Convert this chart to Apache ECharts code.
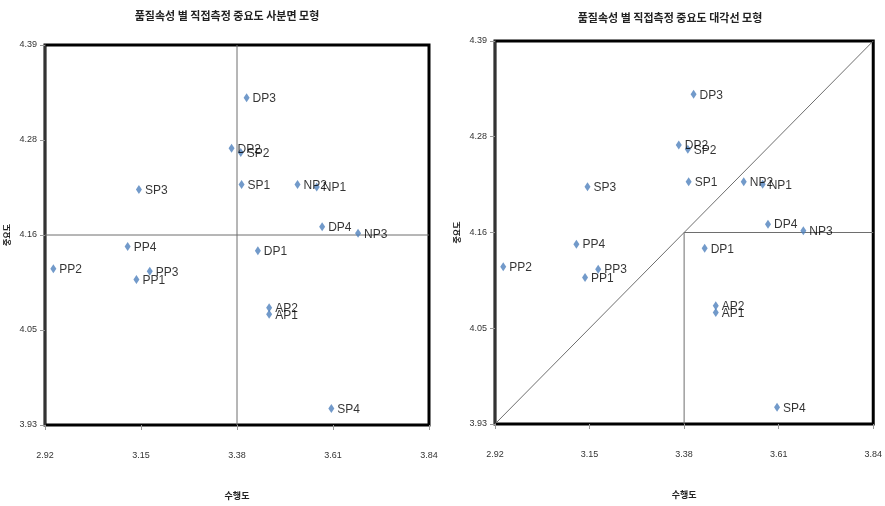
<!DOCTYPE html>
<html>
<head>
<meta charset="utf-8">
<script src="https://cdn.jsdelivr.net/npm/echarts@6/dist/echarts.min.js"></script>
<style>
html,body{margin:0;padding:0;background:#fff;}
#chart{width:885px;height:506px;}
</style>
</head>
<body>
<div id="chart"></div>
<script>
// ---- data ----
const names = ['DP3','DP2','SP2','SP1','NP2','NP1','SP3','DP4','NP3','PP4','DP1','PP2','PP3','PP1','AP2','AP1','SP4'];
const performance = [3.403,3.367,3.389,3.391,3.525,3.571,3.145,3.584,3.670,3.118,3.430,2.940,3.171,3.139,3.457,3.457,3.606];
const importance  = [4.326,4.265,4.260,4.221,4.221,4.218,4.215,4.170,4.162,4.146,4.141,4.119,4.116,4.106,4.072,4.064,3.950];

const xTicks = [2.92,3.15,3.38,3.61,3.84];
const xTickLabels = ['2.92','3.15','3.38','3.61','3.84'];
const yTicks = [3.93,4.045,4.16,4.275,4.39];
const yTickLabels = ['3.93','4.05','4.16','4.28','4.39'];
const xMean = 3.38;
const yMean = 4.16;

const titles = ['품질속성 별 직접측정 중요도 사분면 모형','품질속성 별 직접측정 중요도 대각선 모형'];
const xName = '수행도';
const yName = '중요도';

// ---- build ----
const pts = names.map((n,i)=>({name:n, value:[performance[i], importance[i]]}));
const xMin = xTicks[0], xMax = xTicks[xTicks.length-1];
const yMin = yTicks[0], yMax = yTicks[yTicks.length-1];

function lbl(ticks, labels){
  return function(v){
    let best=0, d=1e9;
    ticks.forEach((t,i)=>{ const dd=Math.abs(t-v); if(dd<d){d=dd;best=i;} });
    return labels[best];
  };
}
const tickFont = {fontFamily:'Liberation Sans Narrow, Liberation Sans, sans-serif', fontSize:9, color:'#333'};

function xAxis(gi){
  return {
    type:'value', gridIndex:gi, min:xMin, max:xMax,
    name:xName, nameLocation:'middle', nameGap:66,
    nameTextStyle:{fontFamily:'Noto Sans CJK KR', fontSize:9, fontWeight:'bold', color:'#222'},
    axisLine:{show:false},
    axisTick:{show:true, length:5, inside:false, customValues:xTicks, lineStyle:{color:'#999'}},
    axisLabel:{show:true, margin:26, customValues:xTicks, formatter:lbl(xTicks,xTickLabels), ...tickFont},
    splitLine:{show:false}
  };
}
function yAxis(gi){
  return {
    type:'value', gridIndex:gi, min:yMin, max:yMax,
    name:yName, nameLocation:'middle', nameGap:34, nameRotate:90,
    nameTextStyle:{fontFamily:'Noto Sans CJK KR', fontSize:8, fontWeight:'bold', color:'#222'},
    axisLine:{show:true, lineStyle:{color:'#333', width:2}},
    axisTick:{show:true, length:5, customValues:yTicks, lineStyle:{color:'#999'}},
    axisLabel:{show:true, margin:8, customValues:yTicks, formatter:lbl(yTicks,yTickLabels), ...tickFont},
    splitLine:{show:false}
  };
}
function refLine(gi, data){
  return {
    type:'line', xAxisIndex:gi, yAxisIndex:gi, data:data, symbol:'none', silent:true,
    lineStyle:{color:'#6e6e6e', width:1}, z:1, animation:false
  };
}
function scatter(gi){
  return {
    type:'scatter', xAxisIndex:gi, yAxisIndex:gi, data:pts,
    symbol:'diamond', symbolSize:[6,9],
    itemStyle:{color:'#4F81BD'},
    label:{show:true, position:'right', distance:3, formatter:'{b}',
      fontFamily:'Liberation Sans Narrow, Liberation Sans, sans-serif', fontSize:12, color:'#000', offset:[0,1]},
    z:3, animation:false
  };
}

const option = {
  backgroundColor:'#fff',
  animation:false,
  title:[
    {text:titles[0], left:222, top:5, textAlign:'center',
     textStyle:{fontFamily:'Noto Sans CJK KR', fontSize:11, fontWeight:'bold', color:'#222'}},
    {text:titles[1], left:665, top:7, textAlign:'center',
     textStyle:{fontFamily:'Noto Sans CJK KR', fontSize:11, fontWeight:'bold', color:'#222'}}
  ],
  grid:[
    {left:45, top:45, width:384, height:380, show:true, borderColor:'#000', borderWidth:3, backgroundColor:'#fff'},
    {left:495, top:41, width:383, height:383, show:true, borderColor:'#000', borderWidth:3, backgroundColor:'#fff'}
  ],
  xAxis:[xAxis(0), xAxis(1)],
  yAxis:[yAxis(0), yAxis(1)],
  series:[
    refLine(0, [[xMean,yMin],[xMean,yMax]]),
    refLine(0, [[xMin,yMean],[xMax,yMean]]),
    scatter(0),
    refLine(1, [[xMin,yMin],[xMax,yMax]]),
    refLine(1, [[xMean,yMin],[xMean,yMean],[xMax,yMean]]),
    scatter(1)
  ]
};
const chart = echarts.init(document.getElementById('chart'), null, {renderer:'canvas'});
chart.setOption(option);
</script>
</body>
</html>
